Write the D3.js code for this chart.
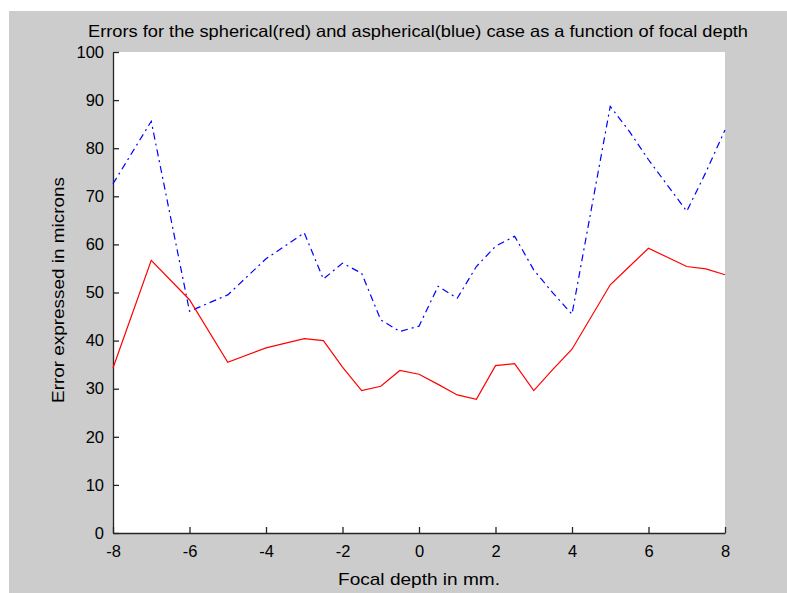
<!DOCTYPE html>
<html>
<head>
<meta charset="utf-8">
<script src="https://cdn.jsdelivr.net/npm/d3@7"></script>
<style>
  body { margin: 0; background: #ffffff; }
  text { font-family: "Liberation Sans", Arial, sans-serif; fill: #000; }
</style>
</head>
<body>
<div id="chart"></div>
<script>
var width = 787;
var height = 593;

// focal depth (mm) sample positions
var depths = [-8, -7, -6, -5, -4, -3, -2.5, -2, -1.5, -1, -0.5, 0, 0.5, 1, 1.5, 2, 2.5, 3, 3.5, 4, 5, 5.5, 6, 7, 7.5, 8];
// spherical case (red)
var spherical = [34.3, 56.7, 48.5, 35.5, 38.5, 40.4, 40.0, 34.5, 29.6, 30.5, 33.8, 33.0, 30.9, 28.7, 27.8, 34.8, 35.2, 29.6, 34.0, 38.2, 51.6, 55.4, 59.2, 55.4, 54.9, 53.7];
// aspherical case (blue)
var aspherical = [72.6, 85.6, 46.1, 49.5, 57.0, 62.4, 52.8, 56.1, 54.0, 44.3, 41.9, 43.0, 51.3, 48.8, 55.4, 59.6, 61.7, 54.7, 49.9, 45.5, 88.7, 83.5, 77.6, 66.9, 75.0, 83.8];

var xTicks = [-8, -6, -4, -2, 0, 2, 4, 6, 8];
var yTicks = [0, 10, 20, 30, 40, 50, 60, 70, 80, 90, 100];

var plotLeft = 113, plotRight = 725, plotTop = 52, plotBottom = 533;

var svg = d3.select("#chart")
            .append("svg")
            .attr("width", width)
            .attr("height", height);

// grey figure background
svg.append("rect")
    .attr("x", 9)
    .attr("y", 11)
    .attr("width", width - 9)
    .attr("height", height - 11)
    .attr("fill", "#cccccc");

// white axes area
svg.append("rect")
    .attr("x", plotLeft)
    .attr("y", plotTop)
    .attr("width", plotRight - plotLeft)
    .attr("height", plotBottom - plotTop)
    .attr("fill", "#ffffff");

var x = d3.scaleLinear().domain([-8, 8]).range([plotLeft, plotRight]);
var y = d3.scaleLinear().domain([0, 100]).range([plotBottom, plotTop]);

var xAxis = d3.axisBottom(x)
                .tickValues(xTicks)
                .tickFormat(d3.format("d"))
                .tickSizeInner(-6)
                .tickSizeOuter(0)
                .tickPadding(12);
var yAxis = d3.axisLeft(y)
                .tickValues(yTicks)
                .tickFormat(d3.format("d"))
                .tickSizeInner(-6)
                .tickSizeOuter(0)
                .tickPadding(9);

var gx = svg.append("g")
        .attr("transform", "translate(0," + plotBottom + ")")
        .call(xAxis);
var gy = svg.append("g")
        .attr("transform", "translate(" + plotLeft + ",0)")
        .call(yAxis);

[gx, gy].forEach(function(g) {
    g.selectAll("path, line").attr("stroke", "#262626").attr("stroke-width", 1.3);
    g.selectAll("text")
        .attr("fill", "#000")
        .style("font-family", "Liberation Sans, Arial, sans-serif")
        .style("font-size", "16.5px");
});
// MATLAB style: minus sign as hyphen
gx.selectAll("text").text(function(d) { return String(d); });

var lineGenerator = d3.line()
                        .x(function(d) { return x(d[0]); })
                        .y(function(d) { return y(d[1]); })
                        .curve(d3.curveLinear);

svg.append("path")
    .datum(d3.zip(depths, aspherical))
    .attr("d", lineGenerator)
    .attr("fill", "none")
    .attr("stroke", "#0000ff")
    .attr("stroke-width", 1.2)
    .attr("stroke-dasharray", "7,4,2,4");

svg.append("path")
    .datum(d3.zip(depths, spherical))
    .attr("d", lineGenerator)
    .attr("fill", "none")
    .attr("stroke", "#ff0000")
    .attr("stroke-width", 1.2);

// title
svg.append("text")
    .attr("x", 418)
    .attr("y", 37)
    .style("text-anchor", "middle")
    .style("font-size", "16.5px")
    .attr("textLength", 660)
    .attr("lengthAdjust", "spacingAndGlyphs")
    .text("Errors for the spherical(red) and aspherical(blue) case as a function of focal depth");

// x label
svg.append("text")
    .attr("x", 419)
    .attr("y", 585)
    .style("text-anchor", "middle")
    .style("font-size", "17px")
    .attr("textLength", 162)
    .attr("lengthAdjust", "spacingAndGlyphs")
    .text("Focal depth in mm.");

// y label
svg.append("text")
    .attr("transform", "translate(64,290) rotate(-90)")
    .style("text-anchor", "middle")
    .style("font-size", "17px")
    .attr("textLength", 226)
    .attr("lengthAdjust", "spacingAndGlyphs")
    .text("Error expressed in microns");
</script>
</body>
</html>
